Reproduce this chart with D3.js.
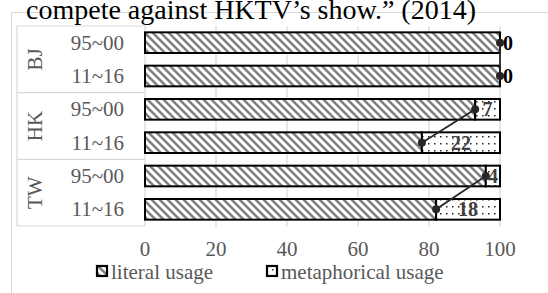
<!DOCTYPE html>
<html><head><meta charset="utf-8">
<script src="https://cdn.jsdelivr.net/npm/d3@7"></script>
<style>body{margin:0;background:#fff;overflow:hidden} text{font-family:"Liberation Serif","Times New Roman",serif}</style>
</head><body>
<svg id="c" width="548" height="293"></svg>
<script>
const groups = ["BJ","BJ","HK","HK","TW","TW"];
const periods = ["95~00","11~16","95~00","11~16","95~00","11~16"];
const literal = [100,100,93,78,96,82];
const metaphorical = [0,0,7,22,4,18];
const ticks = [0,20,40,60,80,100];
const groupNames = ["BJ","HK","TW"];
const legendLabels = ["literal usage","metaphorical usage"];
const title = "compete against HKTV\u2019s show.\u201d (2014)";

(function(){
const svg = d3.select("#c");
const defs = svg.append("defs");
const hatch = defs.append("pattern").attr("id","hatch").attr("patternUnits","userSpaceOnUse")
  .attr("width",8).attr("height",8);
hatch.append("rect").attr("width",8).attr("height",8).attr("fill","#fff");
hatch.append("path").attr("d","M-2,-2L10,10M-2,6L2,10M6,-2L10,2").attr("stroke","#808080").attr("stroke-width",2.6);
const dots = defs.append("pattern").attr("id","dots").attr("patternUnits","userSpaceOnUse")
  .attr("width",6).attr("height",7);
dots.append("rect").attr("width",6).attr("height",7).attr("fill","#fff");
dots.append("rect").attr("x",2).attr("y",3).attr("width",1.5).attr("height",1.5).attr("fill","#222");

svg.append("rect").attr("x",11.5).attr("y",12.5).attr("width",600).attr("height",400)
  .attr("fill","none").attr("stroke","#d9d9d9");

svg.append("text").attr("x",251).attr("y",18.5).attr("text-anchor","middle")
  .attr("font-size",28).attr("fill","#000").text(title);

const pTop = 26, pBottom = 226, pLeft = 145, pRight = 500;
const x = d3.scaleLinear().domain([0,100]).range([pLeft,pRight]);
const idx = d3.range(literal.length);
const y = d3.scaleBand().domain(idx).range([pTop,pBottom]).paddingInner(0.38).paddingOuter(0.19);

svg.append("g").selectAll("line").data(ticks.slice(1)).join("line")
  .attr("x1",d=>x(d)).attr("x2",d=>x(d)).attr("y1",pTop).attr("y2",pBottom+1)
  .attr("stroke","#d9d9d9").attr("stroke-width",1.2);

const gb = svg.append("g").attr("stroke","#d9d9d9").attr("stroke-width",1.2).attr("fill","none");
gb.append("line").attr("x1",17).attr("x2",17).attr("y1",pTop).attr("y2",pBottom);
gb.append("line").attr("x1",pLeft).attr("x2",pLeft).attr("y1",pTop).attr("y2",pBottom);
[0,2,4,6].forEach(i=>{
  const yy = i===0? pTop : i===6? pBottom : (y(i-1)+y.bandwidth()+y(i))/2;
  gb.append("line").attr("x1",17).attr("x2",pLeft).attr("y1",yy).attr("y2",yy);
});

svg.append("g").selectAll("text").data(ticks).join("text")
  .attr("x",d=>x(d)).attr("y",256).attr("text-anchor","middle")
  .attr("font-size",21).attr("fill","#595959").text(d=>d);

svg.append("g").selectAll("text").data(idx).join("text")
  .attr("x",124).attr("y",i=>y(i)+y.bandwidth()/2+7).attr("text-anchor","end")
  .attr("font-size",21).attr("fill","#595959").text(i=>periods[i]);
groupNames.forEach((g,k)=>{
  const cy = (y(2*k)+y(2*k+1)+y.bandwidth())/2;
  svg.append("text").attr("transform",`translate(42,${cy}) rotate(-90)`).attr("text-anchor","middle")
    .attr("font-size",21).attr("fill","#595959").text(g);
});

const bars = svg.append("g");
bars.selectAll("rect.lit").data(idx).join("rect").attr("class","lit")
  .attr("x",x(0)).attr("y",i=>y(i)).attr("width",i=>x(literal[i])-x(0)).attr("height",y.bandwidth())
  .attr("fill","url(#hatch)").attr("stroke","#000").attr("stroke-width",2);
bars.selectAll("rect.met").data(idx.filter(i=>metaphorical[i]>0)).join("rect").attr("class","met")
  .attr("x",i=>x(literal[i])).attr("y",i=>y(i)).attr("width",i=>x(literal[i]+metaphorical[i])-x(literal[i])).attr("height",y.bandwidth())
  .attr("fill","url(#dots)").attr("stroke","#000").attr("stroke-width",2);

[0,2,4].forEach(i=>{
  svg.append("line").attr("x1",x(literal[i])).attr("y1",y(i)+y.bandwidth()/2)
    .attr("x2",x(literal[i+1])).attr("y2",y(i+1)+y.bandwidth()/2)
    .attr("stroke","#262626").attr("stroke-width",1.8);
});
svg.append("g").selectAll("circle").data(idx).join("circle")
  .attr("cx",i=>x(literal[i])).attr("cy",i=>y(i)+y.bandwidth()/2).attr("r",4).attr("fill","#262626");

svg.append("g").selectAll("text").data(idx).join("text")
  .attr("x",i=> metaphorical[i]===0 ? x(100)+3 : x(literal[i]+metaphorical[i]/2))
  .attr("y",i=>y(i)+y.bandwidth()/2+7)
  .attr("text-anchor",i=>metaphorical[i]===0?"start":"middle")
  .attr("font-size",20).attr("font-weight","bold").attr("fill",i=>metaphorical[i]===0?"#000":"#404040")
  .text(i=>metaphorical[i]);

const leg = [{x:97,fill:"url(#hatch)"},{x:267,fill:"url(#dots)"}];
leg.forEach((l,k)=>{
  svg.append("rect").attr("x",l.x).attr("y",266).attr("width",10).attr("height",10)
    .attr("fill",l.fill).attr("stroke","#000").attr("stroke-width",2.2);
  svg.append("text").attr("x",l.x+14).attr("y",279).attr("font-size",21)
    .attr("fill","#595959").text(legendLabels[k]);
});
})();
</script>
</body></html>
